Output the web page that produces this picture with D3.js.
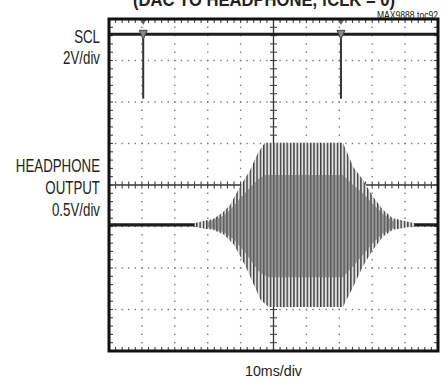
<!DOCTYPE html>
<html>
<head>
<meta charset="utf-8">
<script src="https://cdn.jsdelivr.net/npm/d3@7"></script>
<style>
  html, body { margin: 0; padding: 0; background: #fff; }
  svg { display: block; }
  .lbl { font-family: "Liberation Sans", Arial, Helvetica, sans-serif; fill: #222; }
</style>
</head>
<body>
<svg id="chart" width="448" height="383"></svg>
<script>
// ---------------- DATA ----------------
const titleText = "(DAC TO HEADPHONE, fCLK = 0)";
const noteText = "MAX9888 toc92";
const xLabel = "10ms/div";
const sclLabel = ["SCL", "2V/div"];
const hpLabel = ["HEADPHONE", "OUTPUT", "0.5V/div"];

// time axis: 10 divisions of 10 ms
const timeDomain = [0, 100];
// headphone channel: 8 divisions of 0.5 V
const voltDomain = [-2, 2];

// headphone output baseline (V, screen offset)
const hpBaseline = -0.48;

// SCL channel (2 V/div), ground marker offset in divisions, levels in volts
const sclGroundDiv = 2.08;
const sclHigh = 3.1;
const sclLow = 0;
const sclPulseTimes = [10.4, 70.5];   // ms

// outer envelope of the burst (V amplitude above / below baseline)
const envUpperT = [26, 28, 31.6, 34.3, 36.8, 39.8, 42.9, 45.3, 47.4, 71.1, 74.2, 77.2, 80.2, 83.3, 86.3, 90.6, 93];
const envUpperV = [0.02, 0.04, 0.07, 0.14, 0.24, 0.46, 0.66, 0.87, 0.99, 0.99, 0.70, 0.54, 0.34, 0.18, 0.08, 0.04, 0.02];
const envLowerT = [26, 28, 31.6, 35, 38, 41.5, 44, 46, 48.5, 71.1, 74.2, 77.2, 80.2, 83.3, 86.3, 90.6, 93];
const envLowerV = [0.02, 0.04, 0.06, 0.12, 0.24, 0.50, 0.72, 0.90, 0.99, 0.99, 0.75, 0.50, 0.30, 0.14, 0.06, 0.03, 0.02];
// inner (dense) part of the burst
const innerUpperT = [30, 34.3, 36.8, 39.8, 42.9, 45.3, 47.4, 71.1, 74.2, 77.2, 80.2, 83.3, 87];
const innerUpperV = [0.03, 0.10, 0.18, 0.32, 0.45, 0.55, 0.60, 0.60, 0.48, 0.38, 0.25, 0.13, 0.03];
const innerLowerT = [30, 35, 38, 41.5, 44, 46, 48.5, 71.1, 74.2, 77.2, 80.2, 83.3, 87];
const innerLowerV = [0.03, 0.09, 0.18, 0.34, 0.48, 0.58, 0.63, 0.63, 0.50, 0.36, 0.22, 0.10, 0.03];

// ---------------- CHART ----------------
const svg = d3.select("#chart");
const L = 109, R = 438, T = 19, B = 351;
const x = d3.scaleLinear().domain(timeDomain).range([L, R]);
const y = d3.scaleLinear().domain(voltDomain).range([B, T]);
const divPx = (B - T) / 8;
const ySclV = v => y(0) - (sclGroundDiv * divPx) - v / 2 * divPx;

// defs: stripe patterns representing the carrier
const defs = svg.append("defs");
function stripe(id, bg, fg) {
  const p = defs.append("pattern").attr("id", id).attr("patternUnits", "userSpaceOnUse")
    .attr("width", 3.35).attr("height", 10).attr("x", x(0));
  p.append("rect").attr("width", 3.35).attr("height", 10).attr("fill", bg);
  p.append("rect").attr("x", 0).attr("width", 1.4).attr("height", 10).attr("fill", fg);
}
stripe("outerStripe", "#e2e2e2", "#3c3c3c");
stripe("innerStripe", "#979797", "#5a5a5a");

// grid
const g = svg.append("g");
const xMajor = d3.range(1, 10).map(i => timeDomain[0] + i * 10);
const yMajor = d3.range(1, 8).map(i => voltDomain[0] + i * 0.5);
const xMinor = d3.range(0, 100.001, 2);
const yMinor = d3.range(-2, 2.0001, 0.1);

// dotted grid lines (not center)
xMajor.filter(t => t !== 50).forEach(t => {
  yMinor.forEach(v => g.append("rect").attr("x", x(t) - 0.7).attr("y", y(v) - 0.7)
    .attr("width", 1.4).attr("height", 1.4).attr("fill", "#777"));
});
yMajor.filter(v => v !== 0).forEach(v => {
  xMinor.forEach(t => g.append("rect").attr("x", x(t) - 0.7).attr("y", y(v) - 0.7)
    .attr("width", 1.4).attr("height", 1.4).attr("fill", "#777"));
});

// center cross with ticks
g.append("line").attr("x1", x(50)).attr("x2", x(50)).attr("y1", T).attr("y2", B)
  .attr("stroke", "#333").attr("stroke-width", 1.3);
g.append("line").attr("x1", L).attr("x2", R).attr("y1", y(0)).attr("y2", y(0))
  .attr("stroke", "#333").attr("stroke-width", 1.3);
xMinor.forEach(t => g.append("line").attr("x1", x(t)).attr("x2", x(t))
  .attr("y1", y(0) - 3.5).attr("y2", y(0) + 3.5).attr("stroke", "#444").attr("stroke-width", 1.1));
yMinor.forEach(v => g.append("line").attr("x1", x(50) - 3.5).attr("x2", x(50) + 3.5)
  .attr("y1", y(v)).attr("y2", y(v)).attr("stroke", "#444").attr("stroke-width", 1.1));

// edge ticks
xMinor.forEach(t => {
  g.append("line").attr("x1", x(t)).attr("x2", x(t)).attr("y1", T).attr("y2", T + 4)
    .attr("stroke", "#444").attr("stroke-width", 1.1);
  g.append("line").attr("x1", x(t)).attr("x2", x(t)).attr("y1", B - 4).attr("y2", B)
    .attr("stroke", "#444").attr("stroke-width", 1.1);
});
yMinor.forEach(v => {
  g.append("line").attr("x1", L).attr("x2", L + 4).attr("y1", y(v)).attr("y2", y(v))
    .attr("stroke", "#444").attr("stroke-width", 1.1);
  g.append("line").attr("x1", R - 4).attr("x2", R).attr("y1", y(v)).attr("y2", y(v))
    .attr("stroke", "#444").attr("stroke-width", 1.1);
});

// headphone baseline trace
g.append("line").attr("x1", x(0)).attr("x2", x(100))
  .attr("y1", y(hpBaseline)).attr("y2", y(hpBaseline))
  .attr("stroke", "#1e1e1e").attr("stroke-width", 3.2);

// burst envelopes
function envArea(ut, uv, lt, lv) {
  const up = ut.map((t, i) => [x(t), y(hpBaseline + uv[i])]);
  const lo = lt.map((t, i) => [x(t), y(hpBaseline - lv[i])]).reverse();
  return d3.line()(up.concat(lo)) + "Z";
}
g.append("path").attr("d", envArea(envUpperT, envUpperV, envLowerT, envLowerV))
  .attr("fill", "url(#outerStripe)");
g.append("path").attr("d", envArea(innerUpperT, innerUpperV, innerLowerT, innerLowerV))
  .attr("fill", "url(#innerStripe)");

// SCL trace
g.append("line").attr("x1", x(0)).attr("x2", x(100))
  .attr("y1", ySclV(sclHigh)).attr("y2", ySclV(sclHigh))
  .attr("stroke", "#1e1e1e").attr("stroke-width", 3);
sclPulseTimes.forEach(t => {
  g.append("line").attr("x1", x(t)).attr("x2", x(t))
    .attr("y1", ySclV(sclHigh)).attr("y2", ySclV(sclLow))
    .attr("stroke", "#333").attr("stroke-width", 2);
  g.append("path")
    .attr("d", `M${x(t) - 4},${ySclV(sclHigh) - 4} L${x(t) + 4},${ySclV(sclHigh) - 4} L${x(t)},${ySclV(sclHigh) + 5} Z`)
    .attr("fill", "#888").attr("stroke", "#444").attr("stroke-width", 1);
  g.append("path")
    .attr("d", `M${x(t) - 3},${T + 1} L${x(t) + 3},${T + 1} L${x(t)},${T + 6} Z`)
    .attr("fill", "#666");
});

// frame
g.append("rect").attr("x", L).attr("y", T).attr("width", R - L).attr("height", B - T)
  .attr("fill", "none").attr("stroke", "#111").attr("stroke-width", 3);

// texts (condensed look by horizontal scaling)
function label(txt, px, py, size, sx, anchor, extra) {
  const t = svg.append("text").attr("class", "lbl")
    .attr("transform", `translate(${px},${py}) scale(${sx},1)`)
    .attr("text-anchor", anchor).attr("font-size", size).text(txt);
  if (extra) extra(t);
  return t;
}
svg.append("text").attr("class", "lbl").attr("x", 133).attr("y", 5.5)
  .attr("font-size", 18).attr("font-weight", "bold")
  .attr("textLength", 262).attr("lengthAdjust", "spacingAndGlyphs").text(titleText);
label(noteText, 438, 18.5, 10, 0.86, "end", t => t.attr("fill", "#444"));
sclLabel.forEach((s, i) => label(s, 100, 43 + i * 21, 17.5, 0.76, "end"));
hpLabel.forEach((s, i) => label(s, 100, 172 + i * 22, 17.5, 0.76, "end"));
label(xLabel, x(50), 376, 15.5, 0.92, "middle");
</script>
</body>
</html>
